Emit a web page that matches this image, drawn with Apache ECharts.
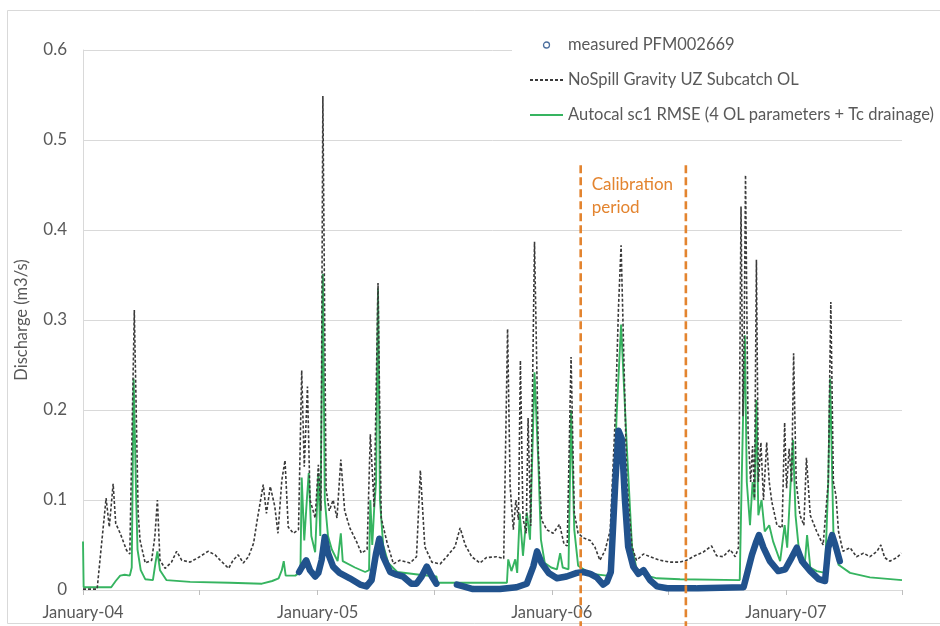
<!DOCTYPE html>
<html>
<head>
<meta charset="utf-8">
<script src="https://cdn.jsdelivr.net/npm/echarts@6/dist/echarts.min.js"></script>
<style>
html,body{margin:0;padding:0;background:#fff;}
#chart{width:940px;height:626px;}
</style>
</head>
<body>
<div id="chart"></div>
<script>
// ---------- DATA ----------
const monthNames = ['January','February','March','April','May','June','July','August','September','October','November','December'];
const xStart = '2004-01-01';
const xEnd = '2007-07-01';
const xTickDates = ['2004-01-01','2004-07-01','2005-01-01','2005-07-01','2006-01-01','2006-07-01','2007-01-01','2007-07-01'];
const xLabelDates = ['2004-01-01','2005-01-01','2006-01-01','2007-01-01'];
const yMin = 0, yMax = 0.6, yStep = 0.1;

const seriesNames = ['measured PFM002669', 'NoSpill Gravity UZ Subcatch OL', 'Autocal sc1 RMSE (4 OL parameters + Tc drainage)'];

const calibStart = '2006-02-15';
const calibEnd = '2006-07-29';
const calibTop = 0.472;
const calibLabel = 'Calibration\nperiod';

const measured = [
['2004-12-03',0.020],['2004-12-07',0.025],['2004-12-14',0.033],['2004-12-20',0.022],['2004-12-28',0.015],
['2005-01-02',0.019],['2005-01-07',0.033],['2005-01-12',0.059],['2005-01-17',0.041],['2005-01-25',0.026],
['2005-02-04',0.019],['2005-02-20',0.013],['2005-03-08',0.006],['2005-03-18',0.004],['2005-03-26',0.011],
['2005-04-02',0.041],['2005-04-07',0.057],['2005-04-13',0.037],['2005-04-24',0.020],['2005-05-04',0.017],
['2005-05-14',0.015],['2005-05-27',0.007],['2005-06-04',0.007],['2005-06-12',0.015],['2005-06-20',0.026],
['2005-06-28',0.015],['2005-07-05',0.007],['2005-07-15','-'],
['2005-08-06',0.006],['2005-08-16',0.004],['2005-08-31',0.001],['2005-10-12',0.001],['2005-11-07',0.003],
['2005-11-23',0.007],['2005-12-03',0.026],['2005-12-09',0.043],['2005-12-16',0.030],['2005-12-27',0.019],
['2006-01-09',0.013],['2006-01-24',0.015],['2006-02-09',0.019],['2006-02-19',0.020],['2006-03-02',0.018],
['2006-03-12',0.014],['2006-03-22',0.006],['2006-03-28',0.009],['2006-04-03',0.020],['2006-04-10',0.120],
['2006-04-15',0.177],['2006-04-20',0.168],['2006-04-25',0.100],['2006-04-30',0.048],['2006-05-08',0.026],
['2006-05-16',0.018],['2006-05-24',0.022],['2006-06-03',0.011],['2006-06-14',0.004],['2006-06-30',0.002],
['2006-08-13',0.002],['2006-08-15','-'],['2006-08-17',0.002],['2006-10-27',0.003],['2006-10-31',0.014],
['2006-11-09',0.039],['2006-11-16',0.054],['2006-11-20',0.061],['2006-11-27',0.047],['2006-12-07',0.032],
['2006-12-20',0.021],['2006-12-31',0.023],['2007-01-10',0.036],['2007-01-18',0.047],['2007-01-26',0.032],
['2007-02-08',0.021],['2007-02-21',0.012],['2007-03-03',0.010],['2007-03-08',0.047],['2007-03-14',0.061],
['2007-03-19',0.050],['2007-03-26',0.032]
];

const noSpill = [
['2004-01-01',0.001],['2004-01-23',0.001],['2004-02-06',0.102],['2004-02-11',0.070],['2004-02-17',0.118],
['2004-02-21',0.074],['2004-02-28',0.063],['2004-03-09',0.044],['2004-03-14',0.040],['2004-03-21',0.311],
['2004-03-27',0.085],['2004-03-30',0.055],['2004-04-07',0.030],['2004-04-17',0.033],['2004-04-22',0.059],
['2004-04-26',0.100],['2004-04-30',0.033],['2004-05-08',0.024],['2004-05-18',0.031],['2004-05-26',0.043],
['2004-06-03',0.033],['2004-06-16',0.031],['2004-07-01',0.037],['2004-07-14',0.043],['2004-07-25',0.039],
['2004-08-02',0.033],['2004-08-15',0.024],['2004-08-22',0.033],['2004-08-30',0.039],['2004-09-07',0.030],
['2004-09-15',0.037],['2004-09-23',0.052],['2004-09-28',0.075],['2004-10-08',0.117],['2004-10-13',0.085],
['2004-10-19',0.115],['2004-10-26',0.093],['2004-10-31',0.063],['2004-11-06',0.122],['2004-11-11',0.144],
['2004-11-16',0.070],['2004-11-24',0.063],['2004-12-02',0.067],['2004-12-07',0.244],['2004-12-11',0.137],
['2004-12-16',0.226],['2004-12-20',0.100],['2004-12-28',0.080],['2005-01-02',0.139],['2005-01-06',0.088],
['2005-01-09',0.549],['2005-01-14',0.112],['2005-01-19',0.088],['2005-01-25',0.100],['2005-01-31',0.080],
['2005-02-06',0.145],['2005-02-12',0.088],['2005-02-20',0.069],['2005-03-03',0.053],['2005-03-10',0.041],
['2005-03-19',0.045],['2005-03-24',0.173],['2005-03-30',0.092],['2005-04-05',0.341],['2005-04-10',0.080],
['2005-04-19',0.053],['2005-04-29',0.029],['2005-05-09',0.033],['2005-05-25',0.030],['2005-06-04',0.037],
['2005-06-10',0.133],['2005-06-17',0.048],['2005-06-28',0.031],['2005-07-11',0.029],['2005-07-21',0.037],
['2005-08-03',0.048],['2005-08-11',0.069],['2005-08-19',0.050],['2005-08-29',0.037],['2005-09-11',0.030],
['2005-09-21',0.036],['2005-10-07',0.037],['2005-10-18',0.035],['2005-10-24',0.290],['2005-10-28',0.115],
['2005-11-02',0.067],['2005-11-06',0.100],['2005-11-10',0.078],['2005-11-13',0.255],['2005-11-17',0.080],
['2005-11-22',0.063],['2005-11-25',0.191],['2005-11-29',0.071],['2005-12-05',0.387],['2005-12-11',0.152],
['2005-12-16',0.078],['2005-12-24',0.067],['2006-01-03',0.063],['2006-01-13',0.073],['2006-01-20',0.051],
['2006-01-25',0.049],['2006-01-31',0.259],['2006-02-05',0.086],['2006-02-11',0.063],['2006-02-19',0.058],
['2006-03-02',0.055],['2006-03-09',0.048],['2006-03-17',0.033],['2006-03-25',0.044],['2006-04-02',0.066],
['2006-04-10',0.194],['2006-04-15',0.315],['2006-04-19',0.383],['2006-04-23',0.267],['2006-04-28',0.121],
['2006-05-06',0.048],['2006-05-13',0.033],['2006-05-24',0.040],['2006-06-03',0.037],['2006-06-19',0.033],
['2006-07-04',0.031],['2006-07-20',0.031],['2006-07-30',0.033],['2006-08-12',0.038],['2006-08-25',0.042],
['2006-09-07',0.049],['2006-09-15',0.038],['2006-09-25',0.037],['2006-10-06',0.045],['2006-10-14',0.037],
['2006-10-19',0.047],['2006-10-23',0.426],['2006-10-26',0.193],['2006-10-28',0.289],['2006-10-30',0.461],
['2006-11-03',0.175],['2006-11-07',0.120],['2006-11-10',0.160],['2006-11-13',0.102],['2006-11-16',0.367],
['2006-11-19',0.120],['2006-11-23',0.164],['2006-11-27',0.100],['2006-12-02',0.164],['2006-12-06',0.120],
['2006-12-10',0.098],['2006-12-18',0.072],['2006-12-26',0.069],['2006-12-30',0.186],['2007-01-02',0.113],
['2007-01-06',0.157],['2007-01-10',0.120],['2007-01-13',0.263],['2007-01-17',0.120],['2007-01-23',0.083],
['2007-01-29',0.072],['2007-02-02',0.147],['2007-02-08',0.083],['2007-02-18',0.065],['2007-02-28',0.050],
['2007-03-08',0.120],['2007-03-12',0.320],['2007-03-16',0.120],['2007-03-20',0.105],['2007-03-24',0.065],
['2007-03-31',0.043],['2007-04-11',0.047],['2007-04-21',0.037],['2007-05-02',0.041],['2007-05-12',0.037],
['2007-05-23',0.043],['2007-05-29',0.050],['2007-06-04',0.036],['2007-06-12',0.032],['2007-06-23',0.036],
['2007-06-30',0.041]
];

const autocal = [
['2004-01-01',0.054],['2004-01-02',0.003],['2004-02-14',0.003],['2004-02-21',0.010],['2004-02-28',0.016],
['2004-03-06',0.017],['2004-03-14',0.016],['2004-03-17',0.025],['2004-03-20',0.235],['2004-03-24',0.100],
['2004-03-26',0.045],['2004-03-31',0.022],['2004-04-07',0.012],['2004-04-19',0.011],['2004-04-23',0.030],
['2004-04-26',0.043],['2004-04-30',0.022],['2004-05-10',0.011],['2004-06-16',0.009],['2004-08-17',0.008],
['2004-10-06',0.007],['2004-10-22',0.010],['2004-11-01',0.013],['2004-11-06',0.022],['2004-11-09',0.032],
['2004-11-12',0.016],['2004-11-27',0.016],['2004-12-05',0.020],['2004-12-07',0.125],['2004-12-11',0.055],
['2004-12-15',0.100],['2004-12-18',0.130],['2004-12-22',0.060],['2004-12-28',0.042],['2005-01-02',0.130],
['2005-01-05',0.060],['2005-01-09',0.351],['2005-01-12',0.100],['2005-01-17',0.060],['2005-01-23',0.045],
['2005-02-01',0.032],['2005-02-06',0.063],['2005-02-09',0.032],['2005-02-28',0.025],['2005-03-16',0.020],
['2005-03-22',0.022],['2005-03-24',0.100],['2005-03-27',0.050],['2005-03-30',0.090],['2005-04-02',0.120],
['2005-04-05',0.335],['2005-04-08',0.100],['2005-04-13',0.050],['2005-04-21',0.030],['2005-05-05',0.020],
['2005-06-09',0.017],['2005-07-05',0.015],['2005-07-07',0.008],['2005-10-23',0.008],['2005-10-25',0.034],
['2005-10-30',0.021],['2005-11-05',0.034],['2005-11-08',0.019],['2005-11-12',0.085],['2005-11-17',0.038],
['2005-11-23',0.086],['2005-11-28',0.056],['2005-12-05',0.242],['2005-12-11',0.141],['2005-12-15',0.056],
['2005-12-21',0.030],['2005-12-31',0.025],['2006-01-09',0.023],['2006-01-14',0.041],['2006-01-18',0.025],
['2006-01-27',0.023],['2006-01-31',0.200],['2006-02-05',0.067],['2006-02-11',0.027],['2006-03-02',0.018],
['2006-03-28',0.016],['2006-04-04',0.022],['2006-04-12',0.194],['2006-04-19',0.295],['2006-04-28',0.158],
['2006-05-06',0.048],['2006-05-13',0.024],['2006-05-29',0.016],['2006-06-14',0.013],['2006-07-20',0.012],
['2006-10-21',0.011],['2006-10-24',0.120],['2006-10-29',0.283],['2006-11-01',0.120],['2006-11-06',0.072],
['2006-11-10',0.120],['2006-11-13',0.100],['2006-11-16',0.211],['2006-11-19',0.083],['2006-11-24',0.100],
['2006-11-29',0.065],['2006-12-06',0.072],['2006-12-12',0.054],['2006-12-23',0.032],['2006-12-30',0.072],
['2007-01-03',0.047],['2007-01-07',0.100],['2007-01-12',0.167],['2007-01-16',0.083],['2007-01-23',0.032],
['2007-01-30',0.025],['2007-02-03',0.061],['2007-02-08',0.025],['2007-02-18',0.021],['2007-03-03',0.019],
['2007-03-08',0.120],['2007-03-11',0.235],['2007-03-16',0.065],['2007-03-24',0.028],['2007-04-11',0.019],
['2007-05-12',0.014],['2007-07-01',0.011]
];

// ---------- HELPERS ----------
// x is measured in days since xStart (value axis), converted back to dates for labels
const DAY = 86400000;
const base = Date.parse(xStart + 'T00:00:00Z');
const d = s => Math.round((Date.parse(s + 'T00:00:00Z') - base) / DAY);
const toSeries = arr => arr.map(([s, v]) => [d(s), v]);
const FONT = 'Lato';
const TXT = '#595959';

const chart = echarts.init(document.getElementById('chart'), null, {renderer: 'canvas'});

const option = {
  backgroundColor: '#ffffff',
  animation: false,
  textStyle: {fontFamily: FONT},
  grid: {left: 83, right: 38, top: 50, bottom: 36, containLabel: false},
  legend: {
    orient: 'vertical',
    left: 512, top: 28,
    padding: [7, 0, 8, 17],
    backgroundColor: '#ffffff',
    itemWidth: 33, itemHeight: 6, itemGap: 15,
    textStyle: {fontFamily: FONT, fontSize: 16.5, color: TXT, lineHeight: 20},
    data: [
      {name: seriesNames[0], icon: 'circle', itemStyle: {color: '#ffffff', borderColor: '#4c6f9e', borderWidth: 1.3}},
      {name: seriesNames[1], itemStyle: {opacity: 0}},
      {name: seriesNames[2], itemStyle: {opacity: 0}}
    ]
  },
  xAxis: {
    type: 'value',
    min: d(xStart), max: d(xEnd),
    axisLine: {show: true, onZero: false, lineStyle: {color: '#d9d9d9', width: 1}},
    axisTick: {show: true, length: 5, lineStyle: {color: '#bfbfbf'}, customValues: xTickDates.map(d)},
    axisLabel: {
      customValues: xLabelDates.map(d),
      fontFamily: FONT, fontSize: 16.5, color: TXT, margin: 14,
      formatter: v => { const dt = new Date(base + v * DAY); return monthNames[dt.getUTCMonth()] + '-' + String(dt.getUTCFullYear()).slice(2); }
    },
    splitLine: {show: false}
  },
  yAxis: {
    type: 'value',
    min: yMin, max: yMax, interval: yStep,
    name: 'Discharge (m3/s)',
    nameLocation: 'middle', nameGap: 53,
    nameTextStyle: {fontFamily: FONT, fontSize: 16.5, color: TXT},
    axisLine: {show: true, lineStyle: {color: '#d9d9d9'}},
    axisTick: {show: false},
    axisLabel: {fontFamily: FONT, fontSize: 17, color: TXT, margin: 16, formatter: v => (v === 0 ? '0' : v.toFixed(1))},
    splitLine: {show: true, lineStyle: {color: '#d9d9d9', width: 1}}
  },
  series: [
    {
      name: seriesNames[2], type: 'line', data: toSeries(autocal), symbol: 'none', z: 2,
      lineStyle: {color: '#36b460', width: 1.9}, itemStyle: {color: '#36b460'}
    },
    {
      name: seriesNames[1], type: 'line', data: toSeries(noSpill), symbol: 'none', z: 3,
      lineStyle: {color: '#3a3a3a', width: 1.6, type: [3, 2]}, itemStyle: {color: '#3a3a3a'}
    },
    {
      name: seriesNames[0], type: 'line', data: toSeries(measured), symbol: 'none', z: 4,
      connectNulls: false,
      lineStyle: {color: '#21528d', width: 6.5, cap: 'round', join: 'round'}, itemStyle: {color: '#21528d'}
    }
  ]
};
chart.setOption(option);

// ---------- ANNOTATIONS (positions derived from axis scales) ----------
const xs = chart.convertToPixel({xAxisIndex: 0}, d(calibStart));
const xe = chart.convertToPixel({xAxisIndex: 0}, d(calibEnd));
const yTop = chart.convertToPixel({yAxisIndex: 0}, calibTop);
const yBottom = 626;
const ORANGE = '#e3842f';
chart.setOption({
  graphic: [
    {type: 'rect', silent: true, z: 0, shape: {x: 7.5, y: 10.5, width: 940, height: 613}, style: {fill: 'none', stroke: '#d9d9d9', lineWidth: 1}},
    {type: 'line', silent: true, z: 50, shape: {x1: xs, y1: yTop, x2: xs, y2: yBottom}, style: {stroke: ORANGE, lineWidth: 2.6, lineDash: [8, 4]}},
    {type: 'line', silent: true, z: 50, shape: {x1: xe, y1: yTop, x2: xe, y2: yBottom}, style: {stroke: ORANGE, lineWidth: 2.6, lineDash: [8, 4]}},
    {type: 'text', silent: true, z: 50, x: xs + 11, y: yTop + 8, style: {text: calibLabel, fill: ORANGE, font: '17px Lato', lineHeight: 23}}
  ]
});
</script>
</body>
</html>
